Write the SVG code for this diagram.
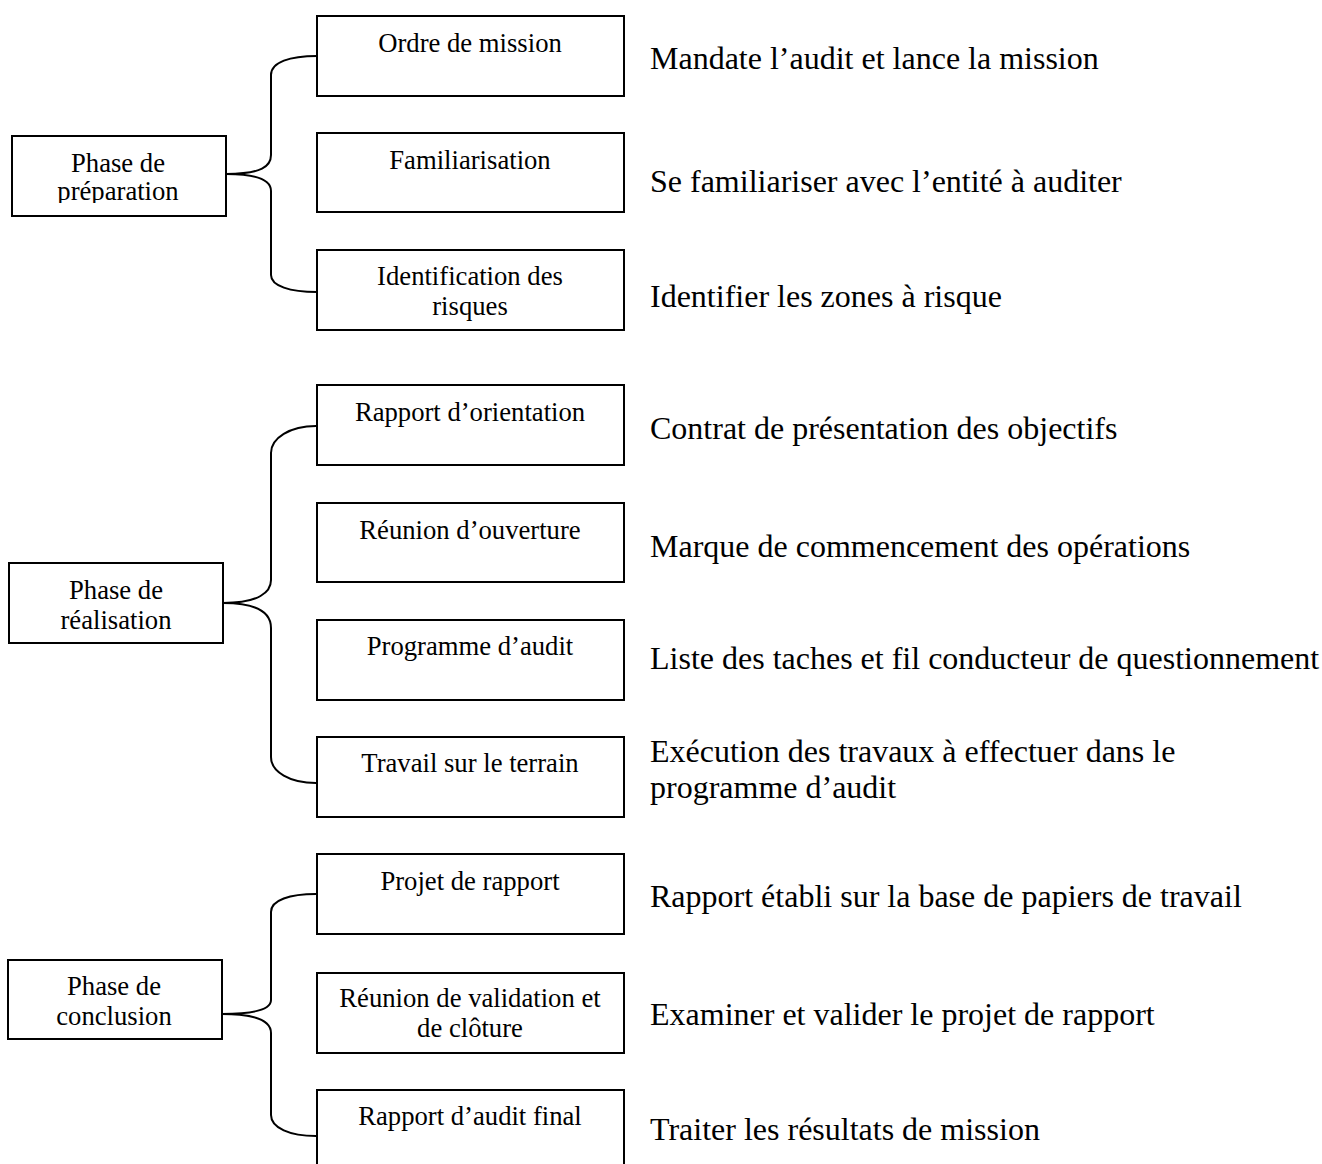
<svg xmlns="http://www.w3.org/2000/svg" width="1322" height="1164" viewBox="0 0 1322 1164">
<style>
.box{fill:#fff;stroke:#000;stroke-width:2}
.con{fill:none;stroke:#000;stroke-width:2}
.t{font-family:"Liberation Serif","Times New Roman",serif;font-size:26.67px;fill:#000;text-anchor:middle}
.d{font-family:"Liberation Serif","Times New Roman",serif;font-size:32px;fill:#000}
</style>
<defs>
<clipPath id="clipPrep"><rect x="12" y="136" width="214" height="67"/></clipPath>
</defs>
<rect x="0" y="0" width="1322" height="1164" fill="#fff"/>
<g id="connectors">
<path class="con" d="M226,174 C262,174 271,166 271,155 V75 C271,62 290,56 317,56"/>
<path class="con" d="M226,174 C262,174 271,182 271,191 V275 C271,286 290,292 317,292"/>
<path class="con" d="M223,603 C259,603 271,592 271,580 V453 C271,438 290,426 316,426"/>
<path class="con" d="M223,603 C259,603 271,614 271,628 V757 C271,772 290,783 316,783"/>
<path class="con" d="M222,1014 C258,1014 271,1008 271,1000 V912 C271,900 290,894 316,894"/>
<path class="con" d="M222,1014 C258,1014 271,1022 271,1033 V1115 C271,1128 290,1136 316,1136"/>
</g>
<g id="phase-preparation">
<rect class="box" x="12" y="136" width="214" height="80"/>
<g clip-path="url(#clipPrep)">
<text class="t" x="118" y="171.5">Phase de</text>
<text class="t" x="118" y="200">préparation</text>
</g>
</g>
<g id="ordre-mission">
<rect class="box" x="317" y="16" width="307" height="80"/>
<text class="t" x="470" y="51.5">Ordre de mission</text>
</g>
<g id="familiarisation">
<rect class="box" x="317" y="133" width="307" height="79"/>
<text class="t" x="470" y="168.5">Familiarisation</text>
</g>
<g id="identification-risques">
<rect class="box" x="317" y="250" width="307" height="80"/>
<text class="t" x="470" y="285">Identification des</text>
<text class="t" x="470" y="315">risques</text>
</g>
<g id="phase-realisation">
<rect class="box" x="9" y="563" width="214" height="80"/>
<text class="t" x="116" y="598.5">Phase de</text>
<text class="t" x="116" y="628.5">réalisation</text>
</g>
<g id="rapport-orientation">
<rect class="box" x="317" y="385" width="307" height="80"/>
<text class="t" x="470" y="420.5">Rapport d’orientation</text>
</g>
<g id="reunion-ouverture">
<rect class="box" x="317" y="503" width="307" height="79"/>
<text class="t" x="470" y="538.5">Réunion d’ouverture</text>
</g>
<g id="programme-audit">
<rect class="box" x="317" y="620" width="307" height="80"/>
<text class="t" x="470" y="655">Programme d’audit</text>
</g>
<g id="travail-terrain">
<rect class="box" x="317" y="737" width="307" height="80"/>
<text class="t" x="470" y="771.5">Travail sur le terrain</text>
</g>
<g id="phase-conclusion">
<rect class="box" x="8" y="960" width="214" height="79"/>
<text class="t" x="114" y="995">Phase de</text>
<text class="t" x="114" y="1025">conclusion</text>
</g>
<g id="projet-rapport">
<rect class="box" x="317" y="854" width="307" height="80"/>
<text class="t" x="470" y="890">Projet de rapport</text>
</g>
<g id="reunion-validation">
<rect class="box" x="317" y="973" width="307" height="80"/>
<text class="t" x="470" y="1006.5">Réunion de validation et</text>
<text class="t" x="470" y="1037">de clôture</text>
</g>
<g id="rapport-final">
<rect class="box" x="317" y="1090" width="307" height="90"/>
<text class="t" x="470" y="1125">Rapport d’audit final</text>
</g>
<g id="descriptions">
<text class="d" x="650" y="68.5">Mandate l’audit et lance la mission</text>
<text class="d" x="650" y="191.5">Se familiariser avec l’entité à auditer</text>
<text class="d" x="650" y="306.5">Identifier les zones à risque</text>
<text class="d" x="650" y="438.5">Contrat de présentation des objectifs</text>
<text class="d" x="650" y="556.5">Marque de commencement des opérations</text>
<text class="d" x="650" y="668.5">Liste des taches et fil conducteur de questionnement</text>
<text class="d" x="650" y="761.5">Exécution des travaux à effectuer dans le</text>
<text class="d" x="650" y="798">programme d’audit</text>
<text class="d" x="650" y="906.5">Rapport établi sur la base de papiers de travail</text>
<text class="d" x="650" y="1025">Examiner et valider le projet de rapport</text>
<text class="d" x="650" y="1140">Traiter les résultats de mission</text>
</g>
</svg>
